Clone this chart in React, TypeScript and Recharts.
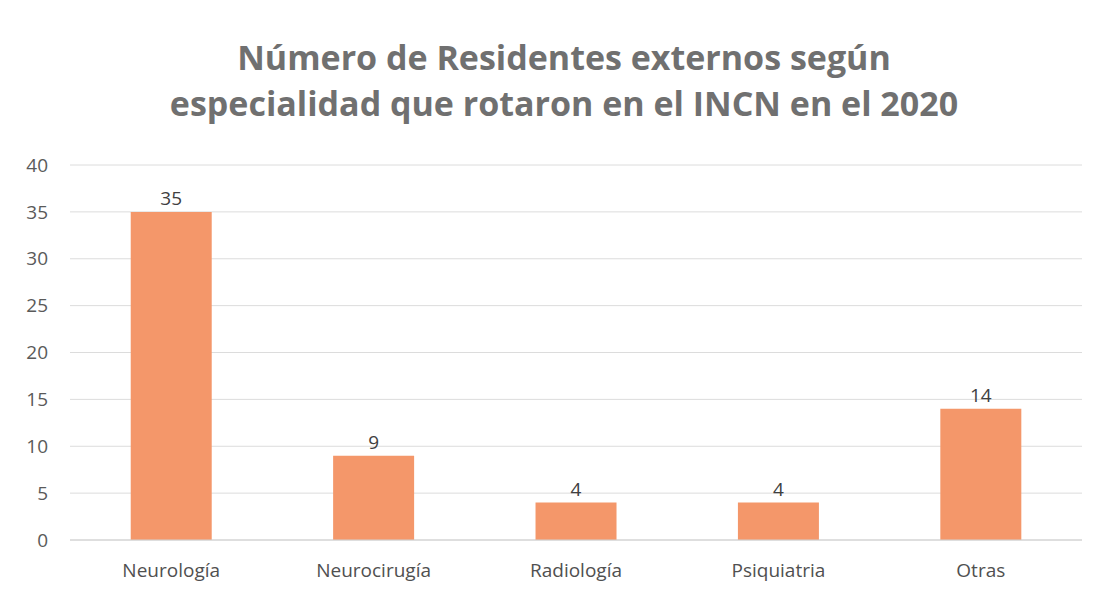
import { BarChart, Bar, XAxis, YAxis, CartesianGrid, LabelList } from "recharts";

const categories = ["Neurología", "Neurocirugía", "Radiología", "Psiquiatria", "Otras"];
const residentes = [35, 9, 4, 4, 14];
const yTicks = [0, 5, 10, 15, 20, 25, 30, 35, 40];

const data = categories.map((c, i) => ({ especialidad: c, residentes: residentes[i] }));

const font = "'Open Sans', 'Liberation Sans', sans-serif";

export default function App() {
  return (
    <div
      style={{
        position: "absolute",
        left: 0,
        top: 0,
        width: 1103,
        height: 596,
        background: "#fff",
        fontFamily: font,
      }}
    >
      <div
        style={{
          position: "absolute",
          left: 0,
          top: 34,
          width: 1128,
          textAlign: "center",
          fontSize: 34,
          fontWeight: 700,
          color: "#707070",
          lineHeight: "46px",
        }}
      >
        Número de Residentes externos según
        <br />
        especialidad que rotaron en el INCN en el 2020
      </div>
      <BarChart
        width={1103}
        height={596}
        data={data}
        margin={{ top: 165, right: 21, bottom: 16, left: 8 }}
        barCategoryGap="30%"
      >
        <CartesianGrid vertical={false} stroke="#dcdcdc" />
        <XAxis
          dataKey="especialidad"
          axisLine={{ stroke: "#d0d0d0" }}
          tickLine={false}
          height={40}
          tickMargin={18}
          tick={{ fill: "#505050", fontSize: 19, fontFamily: font }}
        />
        <YAxis
          width={62}
          domain={[0, 40]}
          ticks={yTicks}
          axisLine={false}
          tickLine={false}
          tickMargin={16}
          tick={{ fill: "#5a5a5a", fontSize: 19, fontFamily: font }}
        />
        <Bar dataKey="residentes" fill="#F4976A" isAnimationActive={false}>
          <LabelList
            dataKey="residentes"
            position="top"
            offset={7}
            style={{ fill: "#404040", fontSize: 19, fontFamily: font }}
          />
        </Bar>
      </BarChart>
    </div>
  );
}
